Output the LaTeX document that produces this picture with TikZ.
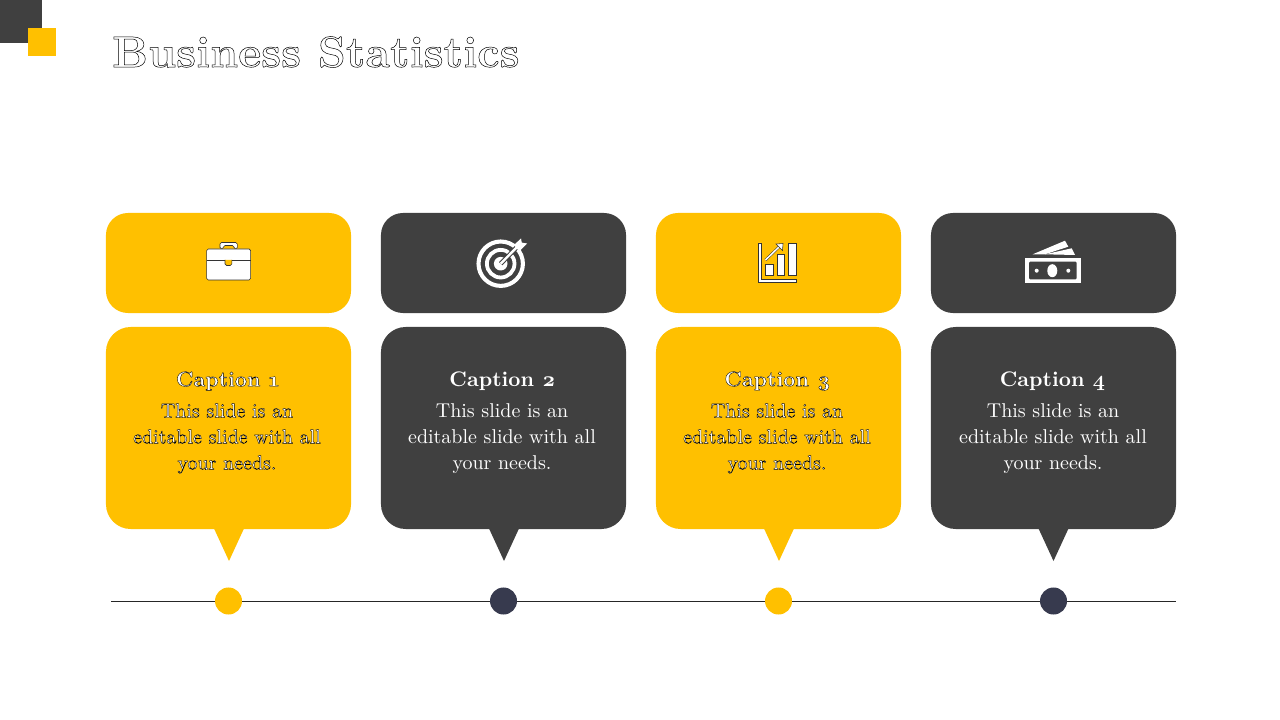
\documentclass[tikz,border=0pt]{standalone}
\usepackage{fontspec}
\usepackage{xcolor}
\setmainfont{lmroman10-regular.otf}[BoldFont=lmroman10-bold.otf, Numbers=OldStyle]
\definecolor{barYellow}{HTML}{FFC000}
\definecolor{barDark}{HTML}{404040}
\definecolor{dotNavy}{HTML}{373A4E}
\newcommand{\outl}[2][0.25]{\special{pdf:code 2 Tr #1 w 0 0 0 RG}#2\special{pdf:code 0 Tr}}
\tikzset{
    toppanel/.style={rectangle, rounded corners=0.55cm, minimum width=6.125cm, minimum height=2.5cm, inner sep=0pt},
    bodypanel/.style={rectangle, rounded corners=0.62cm, minimum width=6.125cm, minimum height=5.05cm, inner sep=0pt},
    dot/.style={circle, minimum size=0.675cm, inner sep=0pt},
    heading/.style={text=white, font=\fontsize{15}{18}\selectfont\bfseries},
    bodytext/.style={text=white, align=center, font=\fontsize{14.2}{18.5}\selectfont}
}
\begin{document}
\begin{tikzpicture}[x=0.025cm, y=-0.025cm]
            \useasboundingbox (0,0) rectangle (1280,720);
            \fill[barDark] (0,0) rectangle (41.5,43);
            \fill[barYellow] (27.5,28) rectangle (55.5,56);
            \node[anchor=west, inner sep=0pt, text=white, font=\fontsize{31.2}{40}\selectfont\bfseries] (title) at (112,52) {\outl[0.35]{Business Statistics}};

            \node[toppanel, fill=barYellow] (top1) at (228.5,263) {};
            \node[toppanel, fill=barDark] (top2) at (503.5,263) {};
            \node[toppanel, fill=barYellow] (top3) at (778.5,263) {};
            \node[toppanel, fill=barDark] (top4) at (1053.5,263) {};

            \fill[barYellow] (214,528.5) -- (229,561) -- (244,528.5) -- cycle;
            \fill[barDark] (489,528.5) -- (504,561) -- (519,528.5) -- cycle;
            \fill[barYellow] (764,528.5) -- (779,561) -- (794,528.5) -- cycle;
            \fill[barDark] (1038.5,528.5) -- (1053.5,561) -- (1068.5,528.5) -- cycle;

            \node[bodypanel, fill=barYellow] (body1) at (228.5,428) {};
            \node[bodypanel, fill=barDark] (body2) at (503.5,428) {};
            \node[bodypanel, fill=barYellow] (body3) at (778.5,428) {};
            \node[bodypanel, fill=barDark] (body4) at (1053.5,428) {};

            \node[heading] (cap1) at (227.5,381) {\outl{Caption 1}};
            \node[heading] (cap2) at (502.5,381) {Caption 2};
            \node[heading] (cap3) at (777.5,381) {\outl{Caption 3}};
            \node[heading] (cap4) at (1052.5,381) {Caption 4};

            \node[bodytext] (text1) at (227,438.5) {\outl{This slide is an\\editable slide with all\\your needs.}};
            \node[bodytext] (text2) at (502,438.5) {This slide is an\\editable slide with all\\your needs.};
            \node[bodytext] (text3) at (777,438.5) {\outl{This slide is an\\editable slide with all\\your needs.}};
            \node[bodytext] (text4) at (1053,438.5) {This slide is an\\editable slide with all\\your needs.};

            \coordinate (lineStart) at (111,601);
            \coordinate (lineEnd) at (1176,601);
            \draw[line width=0.7pt, black!85] (lineStart) -- (lineEnd);
            \node[dot, fill=barYellow] (dot1) at (228.5,601) {};
            \node[dot, fill=dotNavy] (dot2) at (503.5,601) {};
            \node[dot, fill=barYellow] (dot3) at (778.5,601) {};
            \node[dot, fill=dotNavy] (dot4) at (1053.5,601) {};

            \draw[fill=white, draw=black!80, line width=0.4pt, rounded corners=0.04cm] (220,249) -- (220,242.5) -- (237.3,242.5) -- (237.3,249) -- (234,249) -- (234,245.5) -- (223.3,245.5) -- (223.3,249) -- cycle;
            \draw[fill=white, draw=black!80, line width=0.4pt, rounded corners=0.04cm] (206.7,249) rectangle (250.7,280);
            \draw[black!80, line width=0.4pt] (206.7,260) -- (225,260);
            \draw[black!80, line width=0.4pt] (232,260) -- (250.7,260);
            \draw[fill=barYellow, draw=black!80, line width=0.4pt, rounded corners=0.04cm] (225,260) -- (225,265.5) -- (231.8,265.5) -- (231.8,260);

            \draw[white, line width=2.9pt] (500.7,263.7) circle (22.2);
            \draw[white, line width=2.7pt] (500.7,263.7) circle (13.8);
            \fill[white] (500.7,263.7) circle (6.8);
            \draw[barDark, line width=3.2pt] (500.7,263.7) -- (518,246);
            \draw[white, line width=1.7pt] (500.7,263.7) -- (518,246);
            \fill[white] (514.5,244.5) -- (521,238.5) -- (521.8,242.6) -- (527,243.5) -- (520.5,250) -- (516,249) -- cycle;

            \draw[fill=white, draw=black!80, line width=0.4pt] (758.3,243) -- (760.9,243) -- (760.9,279.4) -- (796.7,279.4) -- (796.7,282.3) -- (758.3,282.3) -- cycle;
            \draw[fill=white, draw=black!80, line width=0.4pt] (765,264.3) rectangle (773.3,275.2);
            \draw[fill=white, draw=black!80, line width=0.4pt] (777.3,254.3) rectangle (784.3,275.2);
            \draw[fill=white, draw=black!80, line width=0.4pt] (788.7,243.3) rectangle (796.2,275.2);
            \draw[black!80, line width=1.8pt] (765.5,260) -- (780,246);
            \draw[white, line width=1.1pt] (765.5,260) -- (780,246);
            \draw[fill=white, draw=black!80, line width=0.4pt] (776,244) -- (783,243.5) -- (782.5,250.5) -- cycle;

            \fill[white] (1024.7,257.7) rectangle (1080.7,283.3);
            \fill[barDark, rounded corners=0.03cm] (1029,261.7) rectangle (1076.7,279.3);
            \fill[white] (1052.3,270.7) ellipse [x radius=5, y radius=6.5];
            \fill[white] (1036.7,270.7) circle (2);
            \fill[white] (1068.3,270.7) circle (2);
            \fill[white] (1032.7,254.3) -- (1065,240.7) -- (1068.3,246.7) -- (1045,254.3) -- cycle;
            \fill[white] (1045,254.3) -- (1071.7,248.3) -- (1075,255) -- cycle;
        \end{tikzpicture}
\end{document}
